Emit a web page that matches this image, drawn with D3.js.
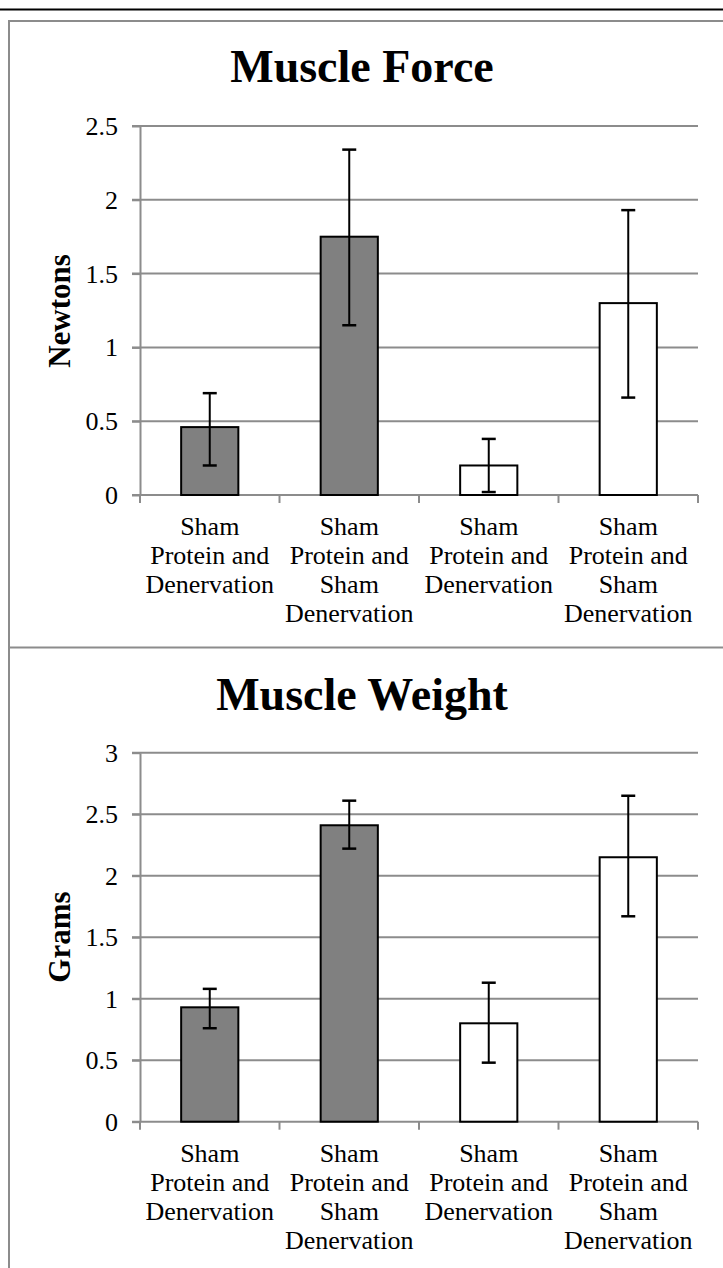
<!DOCTYPE html>
<html>
<head>
<meta charset="utf-8">
<script src="https://cdn.jsdelivr.net/npm/d3@7"></script>
<style>
  html, body { margin: 0; padding: 0; background: #fff; }
  svg { display: block; font-family: "Liberation Serif", serif; }
  svg text, svg tspan { font-family: "Liberation Serif", serif; fill: #000; }
</style>
</head>
<body>
<svg id="chart" width="723" height="1268" font-family="Liberation Serif, serif"></svg>
<script>
// ---- data ----
const categories = [
  ["Sham", "Protein and", "Denervation"],
  ["Sham", "Protein and", "Sham", "Denervation"],
  ["Sham", "Protein and", "Denervation"],
  ["Sham", "Protein and", "Sham", "Denervation"]
];
const groups = ["protein", "protein", "sham", "sham"];

const forceTitle = "Muscle Force";
const forceAxis = "Newtons";
const forceValues = [0.46, 1.75, 0.20, 1.30];
const forceLow    = [0.20, 1.15, 0.02, 0.66];
const forceHigh   = [0.69, 2.34, 0.38, 1.93];
const forceTicks  = [0, 0.5, 1, 1.5, 2, 2.5];

const weightTitle = "Muscle Weight";
const weightAxis = "Grams";
const weightValues = [0.93, 2.41, 0.80, 2.15];
const weightLow    = [0.76, 2.22, 0.48, 1.67];
const weightHigh   = [1.08, 2.61, 1.13, 2.65];
const weightTicks  = [0, 0.5, 1, 1.5, 2, 2.5, 3];

// ---- drawing ----
const FONT = "Liberation Serif, serif";
const svg = d3.select("#chart");
const W = 723, H = 1268;
const gridColor = "#8c8c8c";
const fill = d3.scaleOrdinal().domain(["protein", "sham"]).range(["#808080", "#ffffff"]);

// frame
svg.append("line").attr("x1", 0).attr("x2", W).attr("y1", 9.5).attr("y2", 9.5)
  .attr("stroke", "#000").attr("stroke-width", 2);
svg.append("line").attr("x1", 9).attr("x2", W).attr("y1", 21).attr("y2", 21)
  .attr("stroke", gridColor).attr("stroke-width", 2);
svg.append("line").attr("x1", 9).attr("x2", 9).attr("y1", 20).attr("y2", H)
  .attr("stroke", gridColor).attr("stroke-width", 2);
svg.append("line").attr("x1", 9).attr("x2", W).attr("y1", 647.5).attr("y2", 647.5)
  .attr("stroke", gridColor).attr("stroke-width", 2);

function drawChart(cfg) {
  const g = svg.append("g").attr("font-family", FONT);
  const x = d3.scaleBand().domain(d3.range(categories.length)).range([140, 698]).paddingInner(0).paddingOuter(0);
  const y = d3.scaleLinear().domain([0, d3.max(cfg.ticks)]).range([cfg.bottom, cfg.top]);
  const barW = x.bandwidth() * 0.41;

  // title
  g.append("text").attr("x", 362).attr("y", cfg.titleY)
    .attr("text-anchor", "middle").attr("font-size", 46).attr("font-weight", "bold")
    .attr("font-family", FONT)
    .text(cfg.title);

  // gridlines
  g.selectAll(".grid").data(cfg.ticks.filter(t => t > 0)).join("line")
    .attr("x1", 132).attr("x2", 698)
    .attr("y1", d => y(d)).attr("y2", d => y(d))
    .attr("stroke", gridColor).attr("stroke-width", 2);

  // y axis
  const yAxis = d3.axisLeft(y).tickValues(cfg.ticks).tickSize(8).tickSizeOuter(0).tickPadding(14)
    .tickFormat(d => String(d));
  const ya = g.append("g").attr("transform", "translate(140,0)").call(yAxis)
    .attr("font-family", FONT).attr("font-size", 26);
  ya.select(".domain").attr("stroke", gridColor).attr("stroke-width", 2);
  ya.selectAll(".tick line").attr("stroke", gridColor).attr("stroke-width", 2);
  ya.selectAll(".tick text").attr("font-size", 26).attr("font-family", FONT).attr("fill", "#000").attr("dy", "0.33em");

  // x axis line
  g.append("line").attr("x1", 132).attr("x2", 698).attr("y1", y(0)).attr("y2", y(0))
    .attr("stroke", gridColor).attr("stroke-width", 2);
  const bounds = d3.range(categories.length + 1).map(i => i < categories.length ? x(i) : x(i - 1) + x.bandwidth());
  g.selectAll(".xt").data(bounds).join("line")
    .attr("x1", d => d).attr("x2", d => d)
    .attr("y1", y(0)).attr("y2", y(0) + 8)
    .attr("stroke", gridColor).attr("stroke-width", 2);

  // bars
  g.selectAll(".bar").data(cfg.values).join("rect")
    .attr("x", (d, i) => x(i) + x.bandwidth() / 2 - barW / 2)
    .attr("width", barW)
    .attr("y", d => y(d))
    .attr("height", d => y(0) - y(d))
    .attr("fill", (d, i) => fill(groups[i]))
    .attr("stroke", "#000").attr("stroke-width", 2);

  // error bars
  const eb = g.selectAll(".eb").data(cfg.values.map((v, i) => ({ i, lo: cfg.low[i], hi: cfg.high[i] }))).join("g");
  eb.append("line")
    .attr("x1", d => x(d.i) + x.bandwidth() / 2).attr("x2", d => x(d.i) + x.bandwidth() / 2)
    .attr("y1", d => y(d.lo)).attr("y2", d => y(d.hi))
    .attr("stroke", "#000").attr("stroke-width", 2);
  ["lo", "hi"].forEach(k => {
    eb.append("line")
      .attr("x1", d => x(d.i) + x.bandwidth() / 2 - 7).attr("x2", d => x(d.i) + x.bandwidth() / 2 + 7)
      .attr("y1", d => y(d[k])).attr("y2", d => y(d[k]))
      .attr("stroke", "#000").attr("stroke-width", 2.5);
  });

  // category labels
  const lab = g.selectAll(".lab").data(categories).join("text")
    .attr("text-anchor", "middle").attr("font-size", 26).attr("font-family", FONT)
    .attr("transform", (d, i) => `translate(${x(i) + x.bandwidth() / 2},${y(0) + 40})`);
  lab.selectAll("tspan").data(d => d).join("tspan")
    .attr("x", 0).attr("y", (d, j) => j * 29).attr("font-family", FONT).text(d => d);

  // axis title
  g.append("text")
    .attr("transform", `translate(70,${cfg.axisY}) rotate(-90)`)
    .attr("text-anchor", "middle").attr("font-size", 31).attr("font-weight", "bold")
    .attr("font-family", FONT)
    .text(cfg.axis);
}

drawChart({ title: forceTitle, axis: forceAxis, values: forceValues, low: forceLow, high: forceHigh,
  ticks: forceTicks, top: 126, bottom: 495, titleY: 82, axisY: 311 });
drawChart({ title: weightTitle, axis: weightAxis, values: weightValues, low: weightLow, high: weightHigh,
  ticks: weightTicks, top: 752.7, bottom: 1121.7, titleY: 710, axisY: 937 });
</script>
</body>
</html>
